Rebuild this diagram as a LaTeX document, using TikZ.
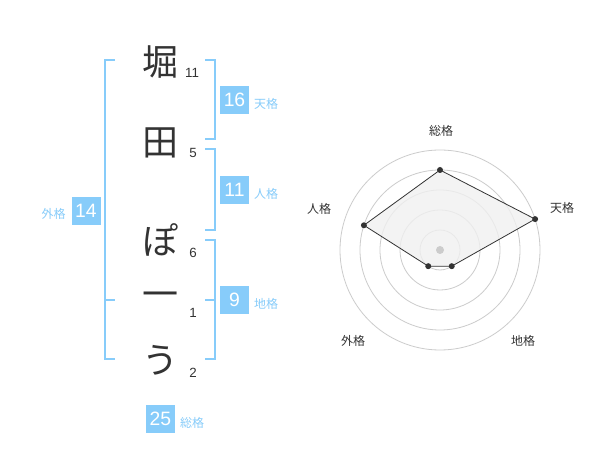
\documentclass[tikz,border=0pt]{standalone}
\usepackage{fontspec}
\setmainfont{Liberation Sans}
\newfontfamily\jp{Noto Sans CJK JP}
\usetikzlibrary{calc}
\definecolor{sky}{HTML}{87CCFA}
\definecolor{ink}{HTML}{333333}
\definecolor{ring}{HTML}{CCCCCC}
\definecolor{area}{HTML}{F0F0F0}
\begin{document}
\begin{tikzpicture}[x=0.75pt,y=-0.75pt,
  kanji/.style={font=\jp\fontsize{27}{27}\selectfont,text=ink,inner sep=0},
  strokes/.style={font=\fontsize{10}{10}\selectfont,text=ink,inner sep=0},
  valbox/.style={fill=sky,text=white,font=\fontsize{14.5}{14.5}\selectfont,minimum width=21.75pt,minimum height=21pt,inner sep=0},
  kaku/.style={font=\jp\fontsize{9}{9}\selectfont,text=sky,inner sep=0},
  bracket/.style={draw=sky,line width=1.5pt},
  axislabel/.style={font=\jp\fontsize{9}{9}\selectfont,text=ink,inner sep=0},
  ringline/.style={draw=ring,line width=0.6pt},
  dot/.style={circle,fill=ink,inner sep=0,minimum size=4.5pt}
]
\useasboundingbox[fill=white] (0,0) rectangle (600,470);

% characters
\node[kanji] (c1) at (160,62) {堀};
\node[kanji] (c2) at (160,143) {田};
\node[kanji] (c3) at (160,240) {ぽ};
\node[kanji] (c4) at (160,300) {一};
\node[kanji] (c5) at (160,360) {う};
% stroke counts
\node[strokes] (n1) at (192,73) {11};
\node[strokes] (n2) at (193,153) {5};
\node[strokes] (n3) at (193,253) {6};
\node[strokes] (n4) at (193,313) {1};
\node[strokes] (n5) at (193,373) {2};

% brackets
\coordinate (lt) at (115,60); \coordinate (lb) at (115,359);
\draw[bracket] (lt) -- (105,60) -- (105,359) -- (lb);
\coordinate (lm) at (115,300);
\draw[bracket] (105,300) -- (lm);
\coordinate (t1) at (205,60); \coordinate (t2) at (205,139);
\draw[bracket] (t1) -- (215,60) -- (215,139) -- (t2);
\coordinate (p1) at (205,149); \coordinate (p2) at (205,230);
\draw[bracket] (p1) -- (215,149) -- (215,230) -- (p2);
\coordinate (g1) at (205,240); \coordinate (g2) at (205,359);
\draw[bracket] (g1) -- (215,240) -- (215,359) -- (g2);
\coordinate (gm) at (205,300);
\draw[bracket] (gm) -- (215,300);

% value boxes
\node[valbox] (ten) at (234.5,100) {16};
\node[kaku] (tenl) at (266,104) {天格};
\node[valbox] (jin) at (234.5,190) {11};
\node[kaku] (jinl) at (266,194) {人格};
\node[valbox] (chi) at (234.5,300) {9};
\node[kaku] (chil) at (266,304) {地格};
\node[valbox] (gai) at (86,211) {14};
\node[kaku] (gail) at (53.5,214) {外格};
\node[valbox] (sou) at (160.5,419) {25};
\node[kaku] (soul) at (192,423) {総格};

% radar chart
\coordinate (rc) at (440,250);
\foreach \r in {15,30,45,60,75} \draw[ringline] (rc) circle[radius=\r pt];
\coordinate (vs) at ($(rc)+(90:60pt)$);
\coordinate (vt) at ($(rc)+(18:75pt)$);
\coordinate (vc) at ($(rc)+(-54:15pt)$);
\coordinate (vg) at ($(rc)+(-126:15pt)$);
\coordinate (vj) at ($(rc)+(162:60pt)$);
\draw[fill=area,fill opacity=0.8,draw=ink,line width=0.6pt] (vs) -- (vt) -- (vc) -- (vg) -- (vj) -- cycle;
\fill[ring] (rc) circle[radius=3pt];
\foreach \p in {vs,vt,vc,vg,vj} \node[dot] at (\p) {};
\node[axislabel] (as) at (441,131) {総格};
\node[axislabel] (at) at (562,208) {天格};
\node[axislabel] (ac) at (523,341) {地格};
\node[axislabel] (ag) at (353,341) {外格};
\node[axislabel] (aj) at (319,209) {人格};
\end{tikzpicture}
\end{document}
